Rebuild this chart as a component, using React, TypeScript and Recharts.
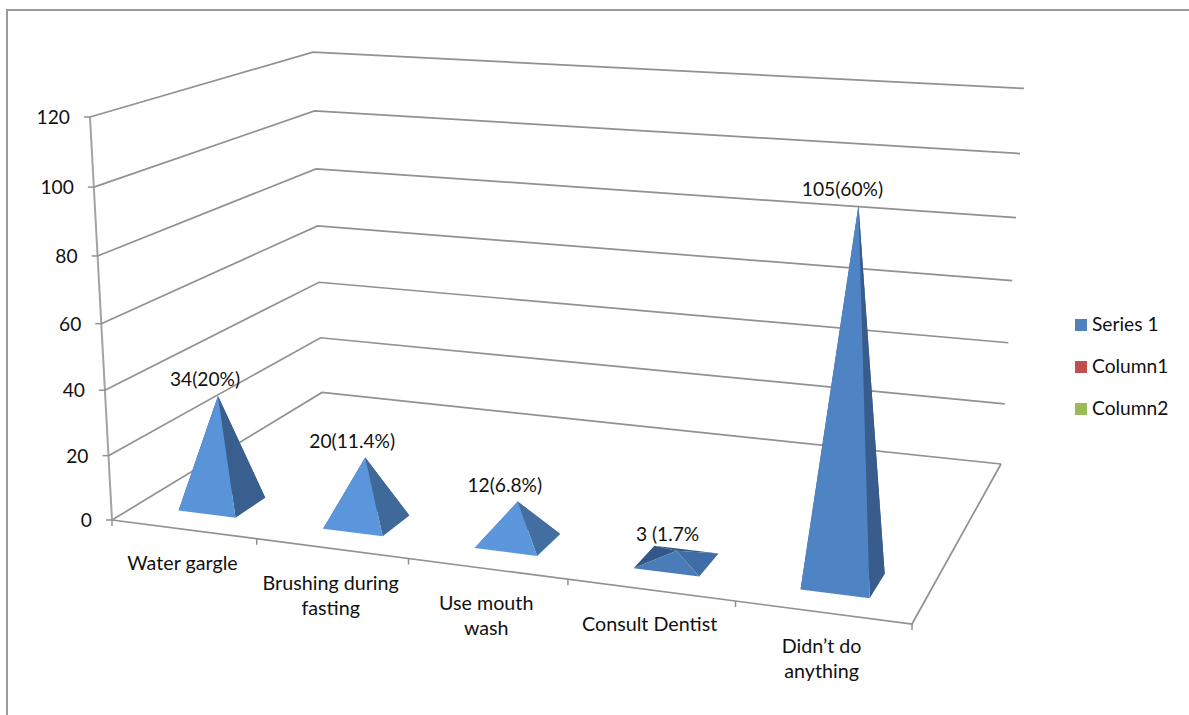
import { Bar, BarChart, CartesianGrid, LabelList, Legend, XAxis, YAxis } from "recharts";

const categories = ["Water gargle", "Brushing during fasting", "Use mouth wash", "Consult Dentist", "Didn\u2019t do anything"];
const tickLines = [["Water gargle"], ["Brushing during", "fasting"], ["Use mouth", "wash"], ["Consult Dentist"], ["Didn\u2019t do", "anything"]];
const series1 = [34, 20, 12, 3, 105];
const column1: (number | undefined)[] = [];
const column2: (number | undefined)[] = [];
const valueLabels = ["34(20%)", "20(11.4%)", "12(6.8%)", "3 (1.7%", "105(60%)"];
const valueTicks = [0, 20, 40, 60, 80, 100, 120];

const table = categories.map((name, i) => ({
  name,
  label: valueLabels[i],
  "Series 1": series1[i],
  Column1: column1[i],
  Column2: column2[i],
}));

const WIDTH = 1189;
const HEIGHT = 715;
const FONT = "Lato, sans-serif";
const FONT_SIZE = 19.2;
const CATEGORY_FONT_SIZE = 19.7;
const TEXT = "#111";
const LINE = "#919191";

// the flat plot rectangle recharts lays out; every mark is re-projected from it
const PLOT = { left: 100, top: 100, right: 1089, bottom: 615 };
const plotU = (x: number) => (x - PLOT.left) / (PLOT.right - PLOT.left);
const plotV = (y: number) => (PLOT.bottom - y) / (PLOT.bottom - PLOT.top);

// floor corners of the 3D box on screen
const FL = [112, 520];
const FR = [912, 624];
const BR = [1001, 464];
const BL = [322, 392.5];
const TOP_FL = [90, 117];
const V_PERSPECTIVE = -0.05;

// square-to-quad homography for the floor
const sx = FL[0] - FR[0] + BR[0] - BL[0];
const sy = FL[1] - FR[1] + BR[1] - BL[1];
const dx1 = FR[0] - BR[0];
const dx2 = BL[0] - BR[0];
const dy1 = FR[1] - BR[1];
const dy2 = BL[1] - BR[1];
const det = dx1 * dy2 - dx2 * dy1;
const g = (sx * dy2 - dx2 * sy) / det;
const h = (dx1 * sy - sx * dy1) / det;
const ax = FR[0] - FL[0] + g * FR[0];
const ay = FR[1] - FL[1] + g * FR[1];
const bx = BL[0] - FL[0] + h * BL[0];
const by = BL[1] - FL[1] + h * BL[1];
const cx = TOP_FL[0] * (1 + V_PERSPECTIVE) - FL[0];
const cy = TOP_FL[1] * (1 + V_PERSPECTIVE) - FL[1];

// u: along the categories, d: into the depth, v: up the value axis (all 0..1)
function project(u: number, d: number, v: number): [number, number] {
  const w = 1 + g * u + h * d + V_PERSPECTIVE * v;
  return [(ax * u + bx * d + cx * v + FL[0]) / w, (ay * u + by * d + cy * v + FL[1]) / w];
}

const pts = (list: [number, number][]) => list.map((p) => p.join(",")).join(" ");

const DEPTH_NEAR = 0.1;
const DEPTH_FAR = 0.235;
const DEPTH_MID = (DEPTH_NEAR + DEPTH_FAR) / 2;

function mix(a: number[], b: number[], t: number) {
  const c = a.map((n, i) => Math.round(n + (b[i] - n) * Math.min(1, Math.max(0, t))));
  return `rgb(${c[0]},${c[1]},${c[2]})`;
}

function Pyramid(props: any) {
  const { x, y, width, height } = props;
  if (!height || height <= 0) return null;
  const u0 = plotU(x);
  const u1 = plotU(x + width);
  const apex = project((u0 + u1) / 2, DEPTH_MID, plotV(y));
  const nearLeft = project(u0, DEPTH_NEAR, 0);
  const nearRight = project(u1, DEPTH_NEAR, 0);
  const farRight = project(u1, DEPTH_FAR, 0);
  const farLeft = project(u0, DEPTH_FAR, 0);
  const v = plotV(y);
  // low pyramids catch less light on the front face
  const front = v < 0.05 ? "#4a7cb8" : mix([92, 151, 222], [79, 132, 196], (v - 0.1) / 0.775);
  const side = v < 0.05 ? "#3f6da5" : mix([66, 111, 159], [56, 93, 140], (v - 0.1) / 0.2);
  return (
    <g>
      <polygon points={pts([farLeft, farRight, apex])} fill="#33578a" />
      <polygon points={pts([nearLeft, farLeft, apex])} fill="#33578a" />
      <polygon points={pts([nearRight, farRight, apex])} fill={side} />
      <polygon points={pts([nearLeft, nearRight, apex])} fill={front} />
    </g>
  );
}

// hand-placed labels in the last two categories
const labelNudge = [0, 0, 0, 4, -3];

function ValueLabel(props: any) {
  const { x, y, width, value, index } = props;
  const [ax2, ay2] = project(plotU(x + width / 2), DEPTH_MID, plotV(y));
  return (
    <text x={ax2 - 13 + labelNudge[index]} y={ay2 - 10} textAnchor="middle" fontFamily={FONT} fontSize={FONT_SIZE} fill={TEXT}>
      {value}
    </text>
  );
}

function WallLine(props: any) {
  const v = plotV(props.y1);
  const front = project(0, 0, v);
  const back = project(0, 1, v);
  const right = project(1, 1, v);
  const isFloor = Math.abs(v) < 1e-6;
  return (
    <g key={props.key} fill="none" stroke={LINE} strokeWidth={1.7}>
      <polyline points={pts([front, back, right])} />
      {isFloor && <polyline points={pts([right, project(1, 0, 0), front])} />}
      {isFloor && <polyline points={pts([front, project(0, 0, 1)])} stroke="#a3a3a3" strokeWidth={2} />}
    </g>
  );
}

function ValueTick(props: any) {
  const { y, payload } = props;
  const [px, py] = project(0, 0, plotV(y));
  return (
    <g>
      <line x1={px - 6} y1={py} x2={px} y2={py} stroke={LINE} strokeWidth={1.5} />
      <text x={px - 20} y={py + 7} textAnchor="end" fontFamily={FONT} fontSize={FONT_SIZE} fill={TEXT}>
        {payload.value}
      </text>
    </g>
  );
}

function CategoryTick(props: any) {
  const { x, index } = props;
  const band = 1 / categories.length;
  const u = plotU(x);
  const [px, py] = project(u, 0, 0);
  const mark = (at: number) => {
    const [mx, my] = project(at, 0, 0);
    return <line x1={mx} y1={my} x2={mx} y2={my + 6} stroke={LINE} strokeWidth={1.5} />;
  };
  return (
    <g>
      {mark(u - band / 2)}
      {index === categories.length - 1 && mark(u + band / 2)}
      {tickLines[index].map((line, i) => (
        <text key={line} x={px - 1} y={py + 41 + i * 25} textAnchor="middle" fontFamily={FONT} fontSize={CATEGORY_FONT_SIZE} fill={TEXT}>
          {line}
        </text>
      ))}
    </g>
  );
}

function LegendBox(props: any) {
  return (
    <div style={{ position: "absolute", left: 1075, top: 304 }}>
      {props.payload.map((item: any) => (
        <div key={item.value} style={{ display: "flex", alignItems: "center", height: 42, fontFamily: FONT, fontSize: FONT_SIZE, color: TEXT, whiteSpace: "nowrap" }}>
          <span style={{ width: 12, height: 12, marginRight: 5, background: item.color }} />
          <span style={{ position: "relative", top: -1.5 }}>{item.value}</span>
        </div>
      ))}
    </div>
  );
}

export default function App() {
  return (
    <div style={{ position: "absolute", left: 0, top: 0, width: WIDTH, height: HEIGHT, overflow: "hidden", background: "#fff" }}>
      <div style={{ position: "absolute", left: 6, top: 9, width: 1300, height: 900, border: "2px solid #9a9a9a" }} />
      <BarChart
        width={WIDTH}
        height={HEIGHT}
        data={table}
        barCategoryGap="30%"
        margin={{ top: PLOT.top, right: WIDTH - PLOT.right, bottom: HEIGHT - PLOT.bottom - 1, left: PLOT.left - 1 }}
      >
        <CartesianGrid vertical={false} horizontal={WallLine} />
        <XAxis dataKey="name" height={1} interval={0} axisLine={false} tickLine={false} tick={CategoryTick} />
        <YAxis width={1} domain={[0, 120]} ticks={valueTicks} interval={0} axisLine={false} tickLine={false} tick={ValueTick} />
        <Legend content={LegendBox} itemSorter={null} wrapperStyle={{ left: 0, top: 0, width: 0, height: 0 }} />
        <Bar dataKey="Series 1" stackId="a" fill="#4f81bd" shape={Pyramid} isAnimationActive={false}>
          <LabelList dataKey="label" content={ValueLabel} />
        </Bar>
        <Bar dataKey="Column1" stackId="a" fill="#c0504d" shape={Pyramid} isAnimationActive={false} />
        <Bar dataKey="Column2" stackId="a" fill="#9bbb59" shape={Pyramid} isAnimationActive={false} />
      </BarChart>
    </div>
  );
}
